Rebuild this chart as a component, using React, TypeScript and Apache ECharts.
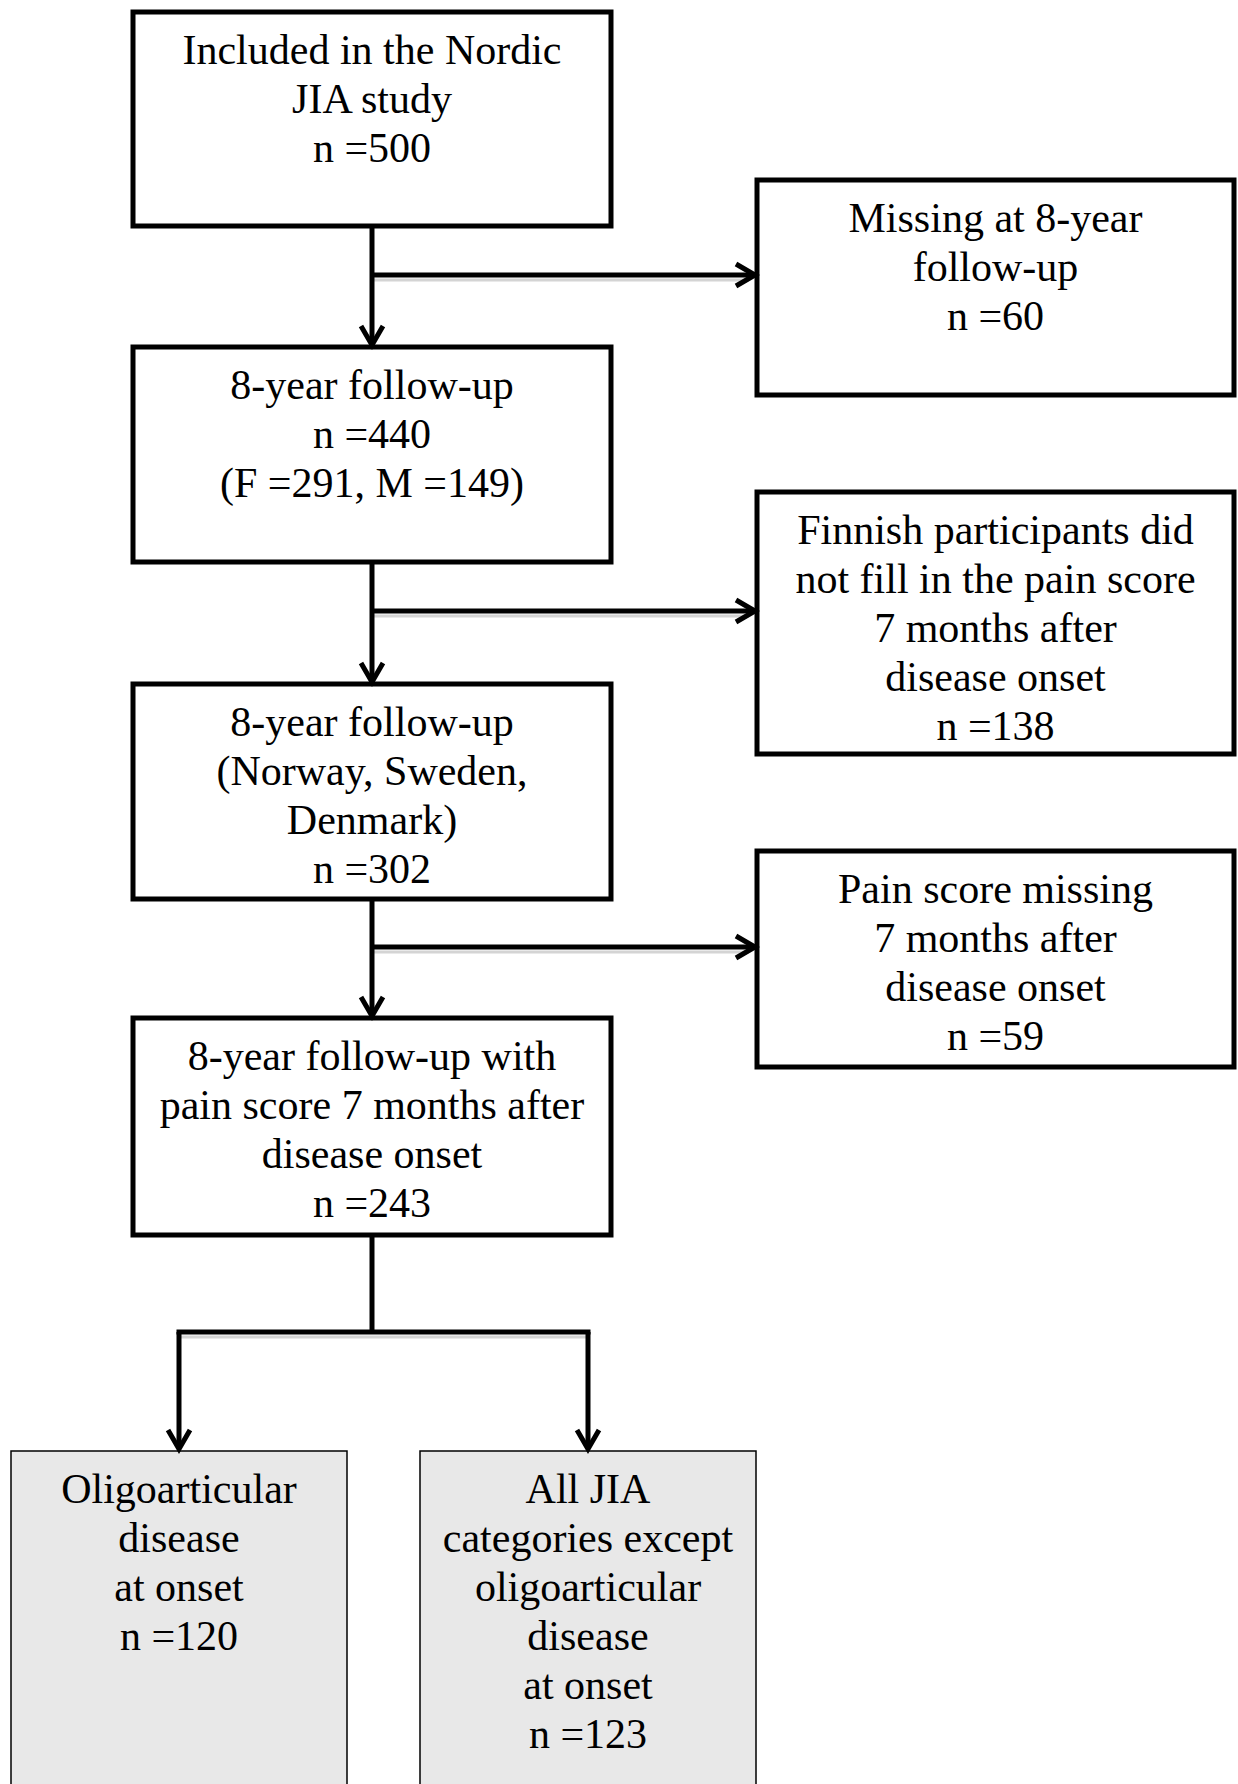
import React, { useEffect, useRef } from "react";
import * as echarts from "echarts";

// ---- Data (texts and counts) ----
const mainLabels = [
  "Included in the Nordic\nJIA study",
  "8-year follow-up",
  "8-year follow-up\n(Norway, Sweden,\nDenmark)",
  "8-year follow-up with\npain score 7 months after\ndisease onset",
];
const mainCounts = [500, 440, 302, 243];
const sexSplit = { F: 291, M: 149 };

const excludedLabels = [
  "Missing at 8-year\nfollow-up",
  "Finnish participants did\nnot fill in the pain score\n7 months after\ndisease onset",
  "Pain score missing\n7 months after\ndisease onset",
];
const excludedCounts = [60, 138, 59];

const groupLabels = [
  "Oligoarticular\ndisease\nat onset",
  "All JIA\ncategories except\noligoarticular\ndisease\nat onset",
];
const groupCounts = [120, 123];

// ---- Layout ----
const MAIN_X = [133, 611];
const MAIN_Y = [
  [12, 226],
  [347, 562],
  [684, 899],
  [1018, 1235],
];
const EXCL_X = [757, 1234];
const EXCL_Y = [
  [180, 395],
  [492, 754],
  [851, 1067],
];
const BRANCH_Y = [275, 611, 947];
const GROUP_X = [
  [11, 347],
  [420, 756],
];
const GROUP_TOP = 1451;
const SPLIT_Y = 1332;

const FONT = '"Liberation Serif", "Times New Roman", serif';
const FS = 42;
const LH = 49;

function textEl(cx: number, top: number, text: string) {
  return {
    type: "text",
    z: 10,
    style: {
      text,
      x: cx,
      y: top + 13,
      fontFamily: FONT,
      fontSize: FS,
      lineHeight: LH,
      fill: "#000",
      align: "center",
      verticalAlign: "top",
      textAlign: "center",
      textVerticalAlign: "top",
    },
  };
}

function boxEl(x0: number, y0: number, x1: number, y1: number, lw = 5, fill = "#fff") {
  return {
    type: "rect",
    z: 5,
    shape: { x: x0, y: y0, width: x1 - x0, height: y1 - y0 },
    style: { fill, stroke: "#000", lineWidth: lw },
  };
}

function lineEl(x1: number, y1: number, x2: number, y2: number, color = "#000", lw = 5, z = 4) {
  return {
    type: "line",
    z,
    shape: { x1, y1, x2, y2 },
    style: { stroke: color, lineWidth: lw, lineCap: "butt" },
  };
}

function downHead(x: number, yTip: number) {
  return {
    type: "polyline",
    z: 6,
    shape: { points: [[x - 11, yTip - 21], [x, yTip - 2], [x + 11, yTip - 21]] },
    style: { stroke: "#000", lineWidth: 5, fill: null, lineJoin: "miter" },
  };
}

function rightHead(xTip: number, y: number) {
  return {
    type: "polyline",
    z: 6,
    shape: { points: [[xTip - 21, y - 11], [xTip - 2, y], [xTip - 21, y + 11]] },
    style: { stroke: "#000", lineWidth: 5, fill: null, lineJoin: "miter" },
  };
}

function buildGraphics() {
  const els: any[] = [];
  const mainCx = (MAIN_X[0] + MAIN_X[1]) / 2;
  const exclCx = (EXCL_X[0] + EXCL_X[1]) / 2;

  // Main boxes
  MAIN_Y.forEach(([y0, y1], i) => {
    els.push(boxEl(MAIN_X[0], y0, MAIN_X[1], y1));
    let t = mainLabels[i] + "\nn =" + mainCounts[i];
    if (i === 1) t += "\n(F =" + sexSplit.F + ", M =" + sexSplit.M + ")";
    els.push(textEl(mainCx, y0, t));
  });

  // Vertical connectors between main boxes with arrows
  for (let i = 0; i < MAIN_Y.length - 1; i++) {
    const yStart = MAIN_Y[i][1];
    const yEnd = MAIN_Y[i + 1][0];
    els.push(lineEl(mainCx, yStart, mainCx, yEnd - 4));
    els.push(downHead(mainCx, yEnd));
  }

  // Excluded boxes & side branches
  EXCL_Y.forEach(([y0, y1], i) => {
    els.push(boxEl(EXCL_X[0], y0, EXCL_X[1], y1));
    els.push(textEl(exclCx, y0, excludedLabels[i] + "\nn =" + excludedCounts[i]));
    const by = BRANCH_Y[i];
    els.push(lineEl(mainCx + 2, by + 5, EXCL_X[0] - 8, by + 5, "#d4d4d4", 3, 3));
    els.push(lineEl(mainCx, by, EXCL_X[0] - 4, by));
    els.push(rightHead(EXCL_X[0], by));
  });

  // Split to groups
  const lastBottom = MAIN_Y[MAIN_Y.length - 1][1];
  els.push(lineEl(mainCx, lastBottom, mainCx, SPLIT_Y));
  const gCx = GROUP_X.map(([a, b]) => (a + b) / 2);
  els.push(lineEl(gCx[0] - 2.5, SPLIT_Y, gCx[1] + 2.5, SPLIT_Y));
  els.push(lineEl(gCx[0] + 2, SPLIT_Y + 5, gCx[1] - 2, SPLIT_Y + 5, "#d4d4d4", 3, 3));
  gCx.forEach((cx) => {
    els.push(lineEl(cx, SPLIT_Y, cx, GROUP_TOP - 4));
    els.push(downHead(cx, GROUP_TOP));
  });

  // Group boxes (grey, thin border, extend past bottom)
  GROUP_X.forEach(([x0, x1], i) => {
    els.push(boxEl(x0, GROUP_TOP, x1, 1830, 1.5, "#e8e8e8"));
    els.push(textEl(gCx[i], GROUP_TOP, groupLabels[i] + "\nn =" + groupCounts[i]));
  });

  return els;
}

export default function App() {
  const ref = useRef<HTMLDivElement>(null);
  useEffect(() => {
    if (!ref.current) return;
    const chart = echarts.init(ref.current, null, { renderer: "svg" });
    chart.setOption({
      animation: false,
      backgroundColor: "#ffffff",
      graphic: { elements: buildGraphics() },
    });
    return () => chart.dispose();
  }, []);
  return (
    <div
      ref={ref}
      style={{ position: "absolute", left: 0, top: 0, width: 1238, height: 1784, background: "#fff" }}
    />
  );
}
